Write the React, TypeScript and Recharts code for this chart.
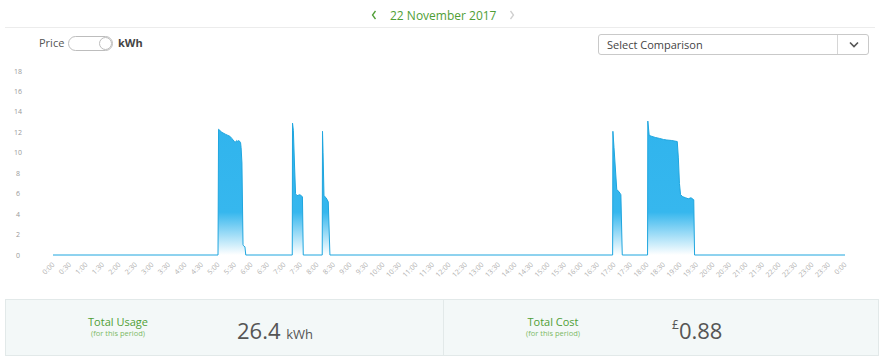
import React from 'react';
import { AreaChart, Area, XAxis, YAxis } from 'recharts';

// minutes since midnight and usage readings (kW)
const USAGE_MINUTES = [
    0,
    300, 301, 307, 314, 318, 322, 325, 327, 331, 334, 336, 338, 341, 342, 343.5, 345.5, 346.5, 349, 350.5,
    435, 435.5, 437, 439, 441, 443.5, 449, 453.5, 455,
    489.5, 490, 491, 492.7, 496.5, 500.5, 503.5,
    1017.5, 1018, 1020, 1025, 1029, 1032.5, 1035,
    1081, 1081.5, 1084, 1089, 1095, 1103, 1110, 1116, 1125, 1135, 1137, 1139, 1141, 1145, 1150, 1155, 1160, 1165, 1166.5,
    1440,
];

const USAGE_KW = [
    0,
    0, 12.3, 12.0, 11.8, 11.7, 11.6, 11.4, 11.3, 11.0, 11.2, 11.1, 11.2, 11.0, 10.5, 9.0, 1.0, 0.9, 0.8, 0,
    0, 12.9, 12.2, 9.0, 6.0, 5.8, 5.9, 5.7, 0,
    0, 12.1, 10.0, 5.8, 5.6, 5.2, 0,
    0, 12.1, 10.5, 6.4, 6.2, 5.9, 0,
    0, 13.1, 11.7, 11.6, 11.5, 11.4, 11.3, 11.25, 11.2, 11.1, 9.5, 7.0, 5.9, 5.7, 5.6, 5.5, 5.6, 5.4, 0,
    0,
];

const Y_TICKS = [0, 2, 4, 6, 8, 10, 12, 14, 16, 18];

const TIME_LABELS = [
    '0:00', '0:30', '1:00', '1:30', '2:00', '2:30', '3:00', '3:30', '4:00', '4:30',
    '5:00', '5:30', '6:00', '6:30', '7:00', '7:30', '8:00', '8:30', '9:00', '9:30',
    '10:00', '10:30', '11:00', '11:30', '12:00', '12:30', '13:00', '13:30', '14:00', '14:30',
    '15:00', '15:30', '16:00', '16:30', '17:00', '17:30', '18:00', '18:30', '19:00', '19:30',
    '20:00', '20:30', '21:00', '21:30', '22:00', '22:30', '23:00', '23:30', '0:00',
];

const chartData = USAGE_MINUTES.map((m, i) => ({ minute: m, kw: USAGE_KW[i] }));
const xTicks = TIME_LABELS.map((_, i) => i * 30);

const FONT = '"Open Sans", "Noto Sans", sans-serif';
const GREEN = '#4f9e35';

const TimeTick = (props: any) => {
    const { x, y, payload } = props;
    return (
        <g transform={`translate(${x},${y})`}>
            <text x={0} y={0} dy={3} textAnchor="end" transform="rotate(-45)" fontSize={7} fill="#b0b0b0" fontFamily={FONT}>
                {TIME_LABELS[Math.round(payload.value / 30)]}
            </text>
        </g>
    );
};

const KwTick = (props: any) => {
    const { y, payload } = props;
    return (
        <text x={18} y={y} dy={2.5} textAnchor="middle" fontSize={7} fill="#999" fontFamily={FONT}>
            {payload.value}
        </text>
    );
};

export default function App() {
    return (
        <div style={{ position: 'absolute', left: 0, top: 0, width: 880, height: 361, background: '#fff', fontFamily: FONT, overflow: 'hidden' }}>
            {/* date header */}
            <div style={{ position: 'absolute', top: 7, left: 0, width: 880, fontSize: 12, color: GREEN }}>
                <svg style={{ position: 'absolute', left: 371, top: 3 }} width={6} height={10}>
                    <polyline points="4.5,1 1.5,5 4.5,9" fill="none" stroke={GREEN} strokeWidth={1.3} />
                </svg>
                <span style={{ position: 'absolute', left: 390, top: 0, whiteSpace: 'nowrap' }}>22 November 2017</span>
                <svg style={{ position: 'absolute', left: 509, top: 3 }} width={6} height={10}>
                    <polyline points="1.5,1 4.5,5 1.5,9" fill="none" stroke="#cfcfcf" strokeWidth={1.3} />
                </svg>
            </div>
            <div style={{ position: 'absolute', top: 27, left: 5, width: 870, height: 1, background: '#ececec' }} />

            {/* price / kWh toggle */}
            <div style={{ position: 'absolute', top: 35, left: 39, fontSize: 11, color: '#555' }}>Price</div>
            <div style={{ position: 'absolute', top: 36, left: 68, width: 43, height: 13, border: '1px solid #bdbdbd', borderRadius: 8, background: '#fff' }}>
                <div style={{ position: 'absolute', top: 0, right: 0, width: 11, height: 11, border: '1px solid #bdbdbd', borderRadius: 7, background: '#fff' }} />
            </div>
            <div style={{ position: 'absolute', top: 35, left: 118, fontSize: 11, color: '#444', fontWeight: 700 }}>kWh</div>

            {/* comparison select */}
            <div style={{ position: 'absolute', top: 34, left: 598, width: 269, height: 19, border: '1px solid #c9c9c9', borderRadius: 3, background: '#fff' }}>
                <div style={{ position: 'absolute', top: 2, left: 8, fontSize: 11, color: '#444' }}>Select Comparison</div>
                <div style={{ position: 'absolute', top: 0, left: 238, width: 1, height: 19, background: '#d6d6d6' }} />
                <svg style={{ position: 'absolute', left: 250, top: 6 }} width={10} height={7}>
                    <polyline points="1,1.5 5,5.5 9,1.5" fill="none" stroke="#555" strokeWidth={1.6} />
                </svg>
            </div>

            {/* usage chart */}
            <div style={{ position: 'absolute', top: 60, left: 0 }}>
                <AreaChart width={880} height={230} data={chartData} margin={{ top: 11, right: 35, left: 0, bottom: 0 }}>
                    <defs>
                        <linearGradient id="usageFill" x1="0" y1="0" x2="0" y2="1">
                            <stop offset="0" stopColor="#30b4ed" stopOpacity={1} />
                            <stop offset="0.68" stopColor="#36b7ee" stopOpacity={1} />
                            <stop offset="1" stopColor="#ffffff" stopOpacity={1} />
                        </linearGradient>
                    </defs>
                    <XAxis
                        dataKey="minute"
                        type="number"
                        domain={[0, 1440]}
                        ticks={xTicks}
                        interval={0}
                        axisLine={false}
                        tickLine={false}
                        height={35}
                        tick={<TimeTick />}
                    />
                    <YAxis
                        domain={[0, 18]}
                        ticks={Y_TICKS}
                        interval={0}
                        width={53}
                        axisLine={false}
                        tickLine={false}
                        tick={<KwTick />}
                    />
                    <Area
                        type="linear"
                        dataKey="kw"
                        stroke="#1fa6df"
                        strokeWidth={1}
                        fill="url(#usageFill)"
                        fillOpacity={1}
                        isAnimationActive={false}
                        dot={false}
                        activeDot={false}
                    />
                </AreaChart>
            </div>

            {/* totals panel */}
            <div style={{ position: 'absolute', top: 299, left: 5, width: 872, height: 55, background: '#f3f8f8', border: '1px solid #e2e9e9' }}>
                <div style={{ position: 'absolute', top: 0, left: 437, width: 1, height: 55, background: '#e2e9e9' }} />
                <div style={{ position: 'absolute', top: 14, left: 52, width: 120, textAlign: 'center', fontSize: 11, color: GREEN }}>Total Usage</div>
                <div style={{ position: 'absolute', top: 28, left: 52, width: 120, textAlign: 'center', fontSize: 7.5, color: '#7cb866' }}>(for this period)</div>
                <div style={{ position: 'absolute', top: 15, left: 231, fontSize: 22, color: '#555', whiteSpace: 'nowrap' }}>
                    26.4 <span style={{ fontSize: 13 }}>kWh</span>
                </div>
                <div style={{ position: 'absolute', top: 14, left: 487, width: 120, textAlign: 'center', fontSize: 11, color: GREEN }}>Total Cost</div>
                <div style={{ position: 'absolute', top: 28, left: 487, width: 120, textAlign: 'center', fontSize: 7.5, color: '#7cb866' }}>(for this period)</div>
                <div style={{ position: 'absolute', top: 15, left: 666, fontSize: 22, color: '#555', whiteSpace: 'nowrap' }}>
                    <span style={{ fontSize: 12, verticalAlign: 'top', position: 'relative', top: 1 }}>£</span>0.88
                </div>
            </div>
        </div>
    );
}
